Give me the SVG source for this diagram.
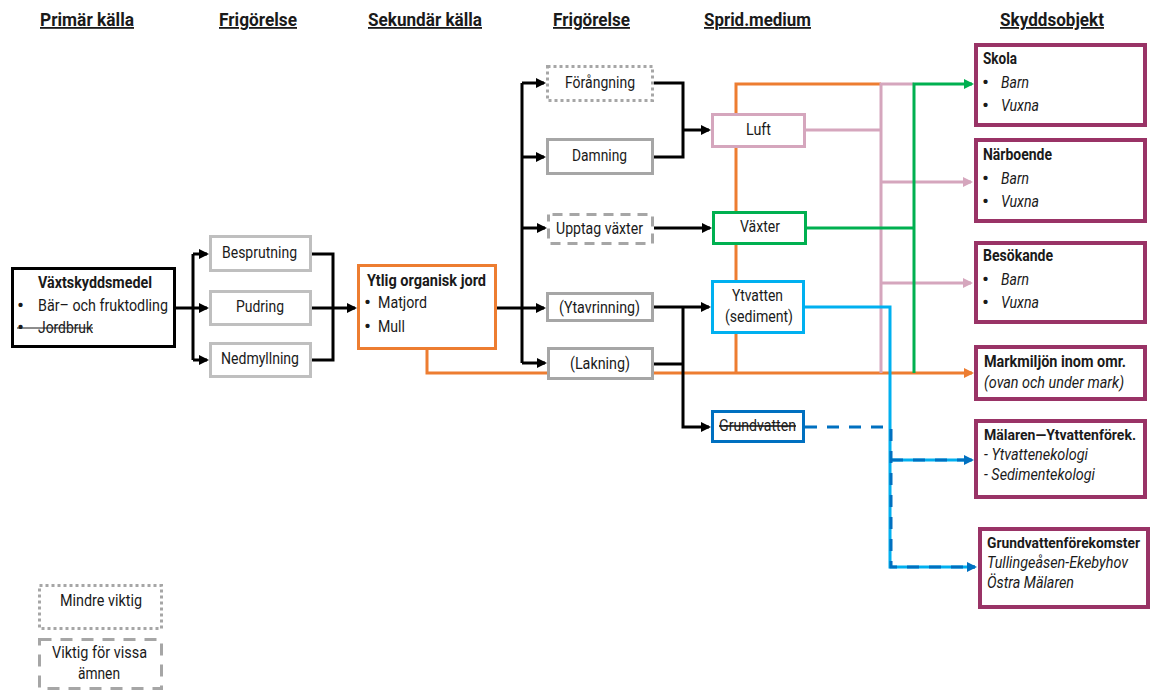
<svg xmlns="http://www.w3.org/2000/svg" width="1150" height="696" viewBox="0 0 1150 696">
<style>
text{font-family:Roboto,"Liberation Sans",sans-serif;font-size:16px;fill:#1a1a1a}
.h{font-weight:bold;font-size:18px;text-decoration:underline}
.b{font-weight:bold}
.i{font-style:italic}
.s{font-size:14px}
.bu{font-size:21px}
rect{fill:#fff}
.n{stroke-width:3}
.obj{stroke:#993366;stroke-width:4}
.c{fill:none;stroke-width:3}
.k{stroke:#000}
</style>
<defs>
<marker id="ak" viewBox="0 0 10 10" refX="8" refY="5" markerWidth="10" markerHeight="10" markerUnits="userSpaceOnUse" orient="auto"><path d="M0,0L10,5L0,10z" fill="#000"/></marker>
<marker id="ao" viewBox="0 0 10 10" refX="8" refY="5" markerWidth="10" markerHeight="10" markerUnits="userSpaceOnUse" orient="auto"><path d="M0,0L10,5L0,10z" fill="#ed7d31"/></marker>
<marker id="ap" viewBox="0 0 10 10" refX="8" refY="5" markerWidth="10" markerHeight="10" markerUnits="userSpaceOnUse" orient="auto"><path d="M0,0L10,5L0,10z" fill="#d5a6bd"/></marker>
<marker id="ag" viewBox="0 0 10 10" refX="8" refY="5" markerWidth="10" markerHeight="10" markerUnits="userSpaceOnUse" orient="auto"><path d="M0,0L10,5L0,10z" fill="#00b050"/></marker>
<marker id="ab" viewBox="0 0 10 10" refX="8" refY="5" markerWidth="10" markerHeight="10" markerUnits="userSpaceOnUse" orient="auto"><path d="M0,0L10,5L0,10z" fill="#0070c0"/></marker>
</defs>

<g id="headers">
<text class="h" x="40" y="26" textLength="94" lengthAdjust="spacingAndGlyphs">Primär källa</text>
<text class="h" x="219" y="26" textLength="78" lengthAdjust="spacingAndGlyphs">Frigörelse</text>
<text class="h" x="368" y="26" textLength="114" lengthAdjust="spacingAndGlyphs">Sekundär källa</text>
<text class="h" x="553" y="26" textLength="77" lengthAdjust="spacingAndGlyphs">Frigörelse</text>
<text class="h" x="704" y="26" textLength="107" lengthAdjust="spacingAndGlyphs">Sprid.medium</text>
<text class="h" x="1000" y="26" textLength="104" lengthAdjust="spacingAndGlyphs">Skyddsobjekt</text>
</g>

<g id="connectors">
<path class="c" stroke="#ed7d31" d="M427,350V373H972" marker-end="url(#ao)"/>
<path class="c" stroke="#ed7d31" d="M736,373V84H881"/>
<path class="c" stroke="#d5a6bd" d="M806,130H881"/>
<path class="c" stroke="#d5a6bd" d="M881,373V84H914"/>
<path class="c" stroke="#d5a6bd" d="M881,182H971" marker-end="url(#ap)"/>
<path class="c" stroke="#d5a6bd" d="M881,283H971" marker-end="url(#ap)"/>
<path class="c" stroke="#00b050" d="M807,228H914"/>
<path class="c" stroke="#00b050" d="M914,373V84H972" marker-end="url(#ag)"/>
<path class="c" stroke="#00b0f0" d="M805,307H890V567H975"/>
<path class="c" stroke="#00b0f0" d="M890,460H972"/>
<path class="c" stroke="#0070c0" stroke-dasharray="12,10" d="M805,427H891V567H975" marker-end="url(#ab)"/>
<path class="c" stroke="#0070c0" stroke-dasharray="12,10" d="M891,460H972" marker-end="url(#ab)"/>
<path class="c k" d="M176,308H193"/>
<path class="c k" d="M193,254V360"/>
<path class="c k" d="M193,254H207" marker-end="url(#ak)"/>
<path class="c k" d="M193,308H207" marker-end="url(#ak)"/>
<path class="c k" d="M193,360H207" marker-end="url(#ak)"/>
<path class="c k" d="M312,254H333V360H312"/>
<path class="c k" d="M312,308H355" marker-end="url(#ak)"/>
<path class="c k" d="M497,308H522"/>
<path class="c k" d="M522,83V363"/>
<path class="c k" d="M522,83H544" marker-end="url(#ak)"/>
<path class="c k" d="M522,157H544" marker-end="url(#ak)"/>
<path class="c k" d="M522,228H545" marker-end="url(#ak)"/>
<path class="c k" d="M522,308H544" marker-end="url(#ak)"/>
<path class="c k" d="M522,363H545" marker-end="url(#ak)"/>
<path class="c k" d="M654,83H683V157H654"/>
<path class="c k" d="M683,130H709" marker-end="url(#ak)"/>
<path class="c k" d="M654,228H710" marker-end="url(#ak)"/>
<path class="c k" d="M654,307H709" marker-end="url(#ak)"/>
<path class="c k" d="M654,364H683"/>
<path class="c k" d="M683,307V427H709" marker-end="url(#ak)"/>
</g>

<g id="vaxtskyddsmedel">
<rect class="n" x="12.5" y="268.5" width="162" height="78" stroke="#000"/>
<text class="b" x="38" y="288" textLength="114" lengthAdjust="spacingAndGlyphs">Växtskyddsmedel</text>
<text class="bu" x="17" y="312">•</text>
<text x="38" y="311" textLength="130" lengthAdjust="spacingAndGlyphs">Bär– och fruktodling</text>
<text class="bu" x="17" y="334">•</text>
<text x="38" y="333" textLength="55" lengthAdjust="spacingAndGlyphs">Jordbruk</text>
<line x1="17" y1="328" x2="93" y2="328" stroke="#1a1a1a" stroke-width="1"/>
</g>

<g id="besprutning">
<rect class="n" x="210.5" y="236.5" width="100" height="34" stroke="#bfbfbf"/>
<text x="222" y="258" textLength="75" lengthAdjust="spacingAndGlyphs">Besprutning</text>
</g>
<g id="pudring">
<rect class="n" x="210.5" y="291.5" width="100" height="33" stroke="#bfbfbf"/>
<text x="236" y="312" textLength="48" lengthAdjust="spacingAndGlyphs">Pudring</text>
</g>
<g id="nedmyllning">
<rect class="n" x="210.5" y="343.5" width="100" height="33" stroke="#bfbfbf"/>
<text x="221" y="364" textLength="78" lengthAdjust="spacingAndGlyphs">Nedmyllning</text>
</g>

<g id="ytlig">
<rect class="n" x="358.5" y="265.5" width="137" height="83" stroke="#ed7d31"/>
<text class="b" x="367" y="286" textLength="119" lengthAdjust="spacingAndGlyphs">Ytlig organisk jord</text>
<text class="bu" x="364" y="309">•</text>
<text x="378" y="308" textLength="49" lengthAdjust="spacingAndGlyphs">Matjord</text>
<text class="bu" x="364" y="333">•</text>
<text x="378" y="332" textLength="27" lengthAdjust="spacingAndGlyphs">Mull</text>
</g>

<g id="forangning">
<rect class="n" x="547.5" y="66.5" width="105" height="34" stroke="#a6a6a6" stroke-dasharray="3,3"/>
<text x="565" y="88" textLength="70" lengthAdjust="spacingAndGlyphs">Förångning</text>
</g>
<g id="damning">
<rect class="n" x="547.5" y="139.5" width="105" height="34" stroke="#a6a6a6"/>
<text x="572" y="161" textLength="55" lengthAdjust="spacingAndGlyphs">Damning</text>
</g>
<g id="upptag">
<rect class="n" x="548.5" y="214.5" width="104" height="29" stroke="#a6a6a6" stroke-dasharray="10,7" stroke-dashoffset="-4"/>
<text x="556" y="234" textLength="87" lengthAdjust="spacingAndGlyphs">Upptag växter</text>
</g>
<g id="ytavrinning">
<rect class="n" x="547.5" y="293.5" width="105" height="27" stroke="#a6a6a6"/>
<text x="559" y="313" textLength="81" lengthAdjust="spacingAndGlyphs">(Ytavrinning)</text>
</g>
<g id="lakning">
<rect class="n" x="548.5" y="348.5" width="104" height="30" stroke="#a6a6a6"/>
<text x="570" y="369" textLength="60" lengthAdjust="spacingAndGlyphs">(Lakning)</text>
</g>

<g id="luft">
<rect class="n" x="712.5" y="114.5" width="92" height="32" stroke="#d5a6bd"/>
<text x="746" y="135" textLength="25" lengthAdjust="spacingAndGlyphs">Luft</text>
</g>
<g id="vaxter">
<rect class="n" x="713.5" y="212.5" width="92" height="31" stroke="#00b050"/>
<text x="740" y="232" textLength="40" lengthAdjust="spacingAndGlyphs">Växter</text>
</g>
<g id="ytvatten">
<rect class="n" x="712.5" y="281.5" width="91" height="51" stroke="#00b0f0"/>
<text x="732" y="301" textLength="51" lengthAdjust="spacingAndGlyphs">Ytvatten</text>
<text x="725" y="322" textLength="68" lengthAdjust="spacingAndGlyphs">(sediment)</text>
</g>
<g id="grundvatten">
<rect class="n" x="712.5" y="411.5" width="91" height="30" stroke="#0070c0"/>
<text x="719" y="431" textLength="77" lengthAdjust="spacingAndGlyphs" text-decoration="line-through">Grundvatten</text>
</g>

<g id="skola">
<rect class="obj" x="976" y="45" width="169" height="80"/>
<text class="b" x="983" y="64" textLength="34" lengthAdjust="spacingAndGlyphs">Skola</text>
<text class="bu" x="982" y="89">•</text>
<text class="i" x="1001" y="88" textLength="28" lengthAdjust="spacingAndGlyphs">Barn</text>
<text class="bu" x="982" y="112">•</text>
<text class="i" x="1001" y="111" textLength="38" lengthAdjust="spacingAndGlyphs">Vuxna</text>
</g>
<g id="narboende">
<rect class="obj" x="976" y="140" width="169" height="81"/>
<text class="b" x="983" y="160" textLength="69" lengthAdjust="spacingAndGlyphs">Närboende</text>
<text class="bu" x="982" y="185">•</text>
<text class="i" x="1001" y="184" textLength="28" lengthAdjust="spacingAndGlyphs">Barn</text>
<text class="bu" x="982" y="208">•</text>
<text class="i" x="1001" y="207" textLength="38" lengthAdjust="spacingAndGlyphs">Vuxna</text>
</g>
<g id="besokande">
<rect class="obj" x="976" y="243" width="169" height="79"/>
<text class="b" x="983" y="261" textLength="70" lengthAdjust="spacingAndGlyphs">Besökande</text>
<text class="bu" x="982" y="286">•</text>
<text class="i" x="1001" y="285" textLength="28" lengthAdjust="spacingAndGlyphs">Barn</text>
<text class="bu" x="982" y="309">•</text>
<text class="i" x="1001" y="308" textLength="38" lengthAdjust="spacingAndGlyphs">Vuxna</text>
</g>
<g id="markmiljon">
<rect class="obj" x="976" y="347" width="169" height="52"/>
<text class="b" x="984" y="367" textLength="142" lengthAdjust="spacingAndGlyphs">Markmiljön inom omr.</text>
<text class="i" x="984" y="388" textLength="140" lengthAdjust="spacingAndGlyphs">(ovan och under mark)</text>
</g>
<g id="malaren">
<rect class="obj" x="976" y="421" width="169" height="76"/>
<text class="b s" x="984" y="440" textLength="152" lengthAdjust="spacingAndGlyphs">Mälaren—Ytvattenförek.</text>
<text class="i" x="984" y="460" textLength="104" lengthAdjust="spacingAndGlyphs">- Ytvattenekologi</text>
<text class="i" x="984" y="480" textLength="111" lengthAdjust="spacingAndGlyphs">- Sedimentekologi</text>
</g>
<g id="grundvattenforekomster">
<rect class="obj" x="980" y="529" width="168" height="78"/>
<text class="b s" x="987" y="548" textLength="153" lengthAdjust="spacingAndGlyphs">Grundvattenförekomster</text>
<text class="i" x="987" y="568" textLength="141" lengthAdjust="spacingAndGlyphs">Tullingeåsen-Ekebyhov</text>
<text class="i" x="987" y="588" textLength="87" lengthAdjust="spacingAndGlyphs">Östra Mälaren</text>
</g>

<g id="legend">
<rect class="n" x="39.5" y="585.5" width="122" height="43" stroke="#a6a6a6" stroke-dasharray="3,3"/>
<text x="60" y="606" textLength="82" lengthAdjust="spacingAndGlyphs">Mindre viktig</text>
<rect class="n" x="39.5" y="639.5" width="122" height="49" stroke="#a6a6a6" stroke-dasharray="12,9"/>
<text x="52" y="658" textLength="95" lengthAdjust="spacingAndGlyphs">Viktig för vissa</text>
<text x="78" y="679" textLength="42" lengthAdjust="spacingAndGlyphs">ämnen</text>
</g>
</svg>
